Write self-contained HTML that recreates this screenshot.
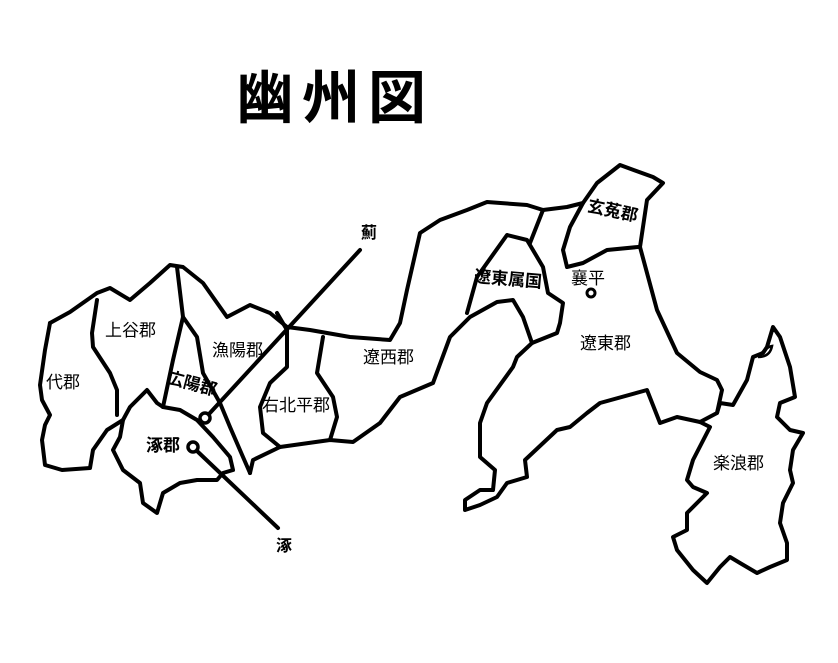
<!DOCTYPE html>
<html><head><meta charset="utf-8"><style>
html,body{margin:0;padding:0;background:#fff;}
svg{display:block;}
text{font-family:"Liberation Sans","Noto Sans CJK JP",sans-serif;fill:#000;}
</style></head><body>
<svg width="838" height="663" viewBox="0 0 838 663" xmlns="http://www.w3.org/2000/svg">
<g fill="none" stroke="#000" stroke-width="4" stroke-linejoin="round" stroke-linecap="round">
<path d="M50,323 L70,312 L97,293 L110,288 L130,300 L150,283 L170,265 L183,267 L203,283 L227,317 L250,305 L270,313 L287,327 L310,330 L350,337 L390,340 L400,323 L407,290 L420,233 L440,220 L467,210 L487,202 L527,205 L543,210 L567,207 L583,203 L597,183 L620,165 L653,177 L663,183 L647,200 L640,247 L657,310 L677,353 L700,372 L717,380 L722,390 L717,413 L700,422"/>
<path d="M50,323 L45,350 L40,385 L42,400 L50,415 L45,425 L42,440 L45,465 L62,470 L90,468 L93,450 L107,430 L123,420"/>
<path d="M97,300 L92,333 L93,347 L110,373 L117,390 L117,415"/>
<path d="M177,267 L183,317 L173,360 L163,407"/>
<path d="M183,317 L197,337 L203,373 L220,403 L230,427 L243,457 L250,473"/>
<path d="M123,420 L130,407 L147,390 L157,403 L163,407 L180,410 L197,420 L213,437 L230,457 L233,470 L223,473 L217,480 L197,480 L180,483 L163,493 L157,513 L143,503 L140,483 L123,470 L113,450 L120,437 Z"/>
<path d="M277,313 L287,330 L287,367 L270,383 L260,407 L263,433 L280,447"/>
<path d="M323,337 L317,373 L333,397 L337,417 L330,440"/>
<path d="M250,473 L253,460 L280,447 L330,440 L353,442 L380,423 L400,397 L433,383 L450,337 L470,317 L497,302 L513,300 L523,317 L532,343"/>
<path d="M467,313 L477,277 L507,235 L527,240 L543,267 L548,293 L563,303 L560,323 L557,333 L532,343"/>
<path d="M530,243 L543,210"/>
<path d="M583,203 L570,227 L563,250 L567,267 L583,263 L607,250 L638,247"/>
<path d="M532,343 L517,357 L513,367 L487,403 L480,423 L480,457 L495,470 L493,490 L480,490 L465,500 L465,510 L480,505 L497,497 L507,483 L527,477 L525,460 L557,430 L570,427 L587,413 L600,403 L647,390 L660,423 L677,417 L700,422"/>
<path d="M717,413 L720,403 L733,405 L747,380 L753,357 L763,353 L767,347 L773,327 L780,337 L790,367 L795,397 L780,403 L777,417 L790,430 L803,433 L793,450 L790,470 L793,483 L783,503 L780,523 L787,543 L787,560 L770,567 L757,573 L740,563 L730,557 L720,567 L707,583 L693,570 L677,550 L673,537 L687,530 L687,513 L707,493 L693,487 L687,480 L693,460 L710,427 L700,422"/>
<path d="M360,250 L209,414"/>
<path d="M197,451 L278,528"/>
</g>
<path d="M758,357 Q766,347 772,346 Q770,357 758,357" fill="none" stroke="#000" stroke-width="2.5"/>
<circle cx="205" cy="418" r="5" fill="none" stroke="#000" stroke-width="3.5"/>
<circle cx="193" cy="447" r="5" fill="none" stroke="#000" stroke-width="3.5"/>
<circle cx="591" cy="293" r="4" fill="none" stroke="#000" stroke-width="3"/>
<text x="236" y="118" font-size="58" font-weight="bold" letter-spacing="8">幽州図</text>
<text x="361" y="238" font-size="16" font-weight="bold">薊</text>
<text x="105" y="336" font-size="17">上谷郡</text>
<text x="46" y="388" font-size="17">代郡</text>
<text x="212" y="356" font-size="17">漁陽郡</text>
<text x="166" y="389" font-size="17" font-weight="bold" transform="rotate(15 190 385)">広陽郡</text>
<text x="262" y="411" font-size="17">右北平郡</text>
<text x="363" y="363" font-size="17">遼西郡</text>
<text x="146" y="451" font-size="17" font-weight="bold">涿郡</text>
<text x="276" y="551" font-size="16" font-weight="bold">涿</text>
<text x="474" y="285" font-size="17" font-weight="bold" transform="rotate(5 510 280)">遼東属国</text>
<text x="571" y="284" font-size="17">襄平</text>
<text x="580" y="349" font-size="17">遼東郡</text>
<text x="587" y="217" font-size="17" font-weight="bold" transform="rotate(12 615 212)">玄菟郡</text>
<text x="713" y="469" font-size="17">楽浪郡</text>
</svg>
</body></html>
